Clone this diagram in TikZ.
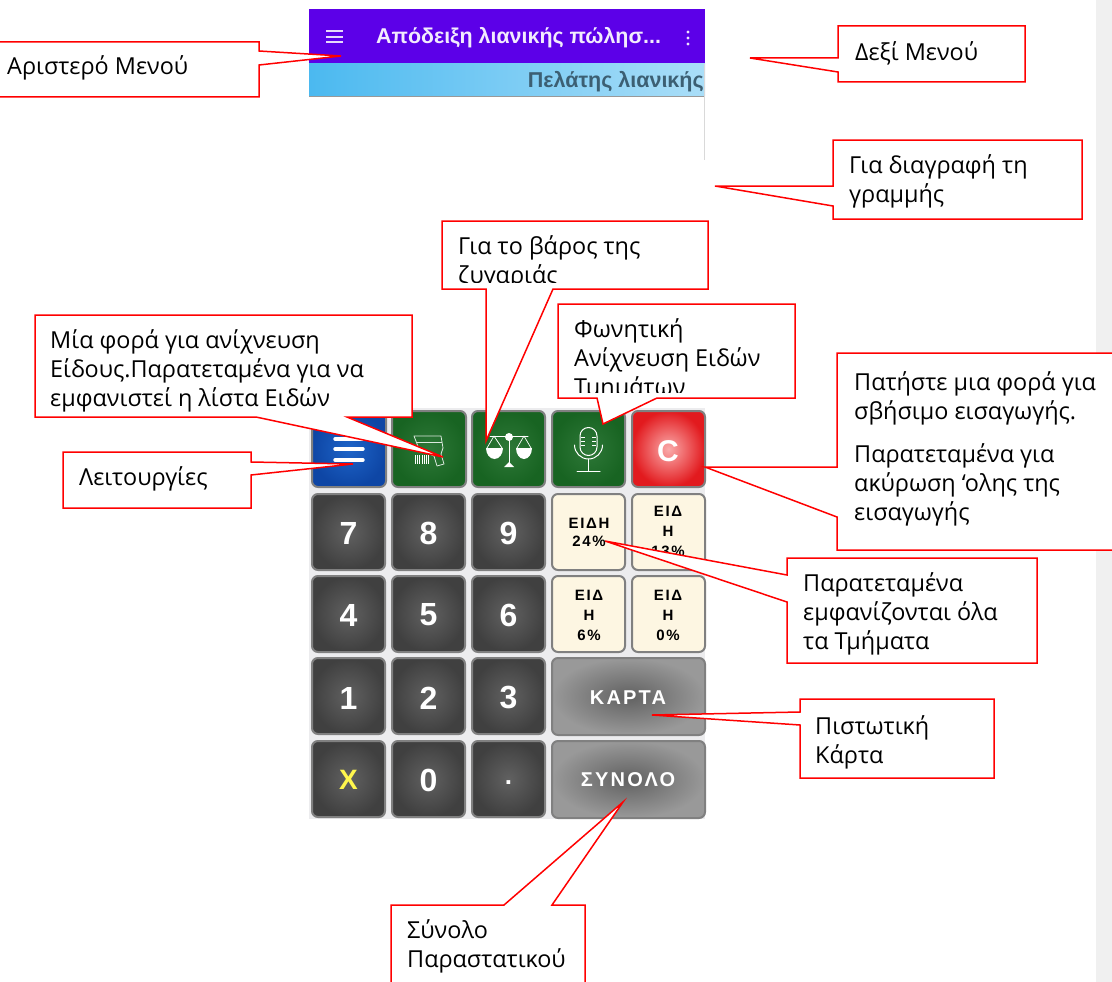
\documentclass[tikz,border=0pt]{standalone}
\usepackage{fontspec}
\setmainfont{Open Sans}
\newfontfamily\appfont{Liberation Sans}
\newfontfamily\spacedfont[LetterSpace=11]{Liberation Sans}
\definecolor{callred}{RGB}{255,0,0}
\definecolor{barpurple}{RGB}{92,0,232}
\definecolor{sidegrey}{RGB}{240,240,240}
\definecolor{padbg}{RGB}{236,236,238}
\definecolor{keyedge}{RGB}{128,128,128}
\definecolor{keygreen}{RGB}{24,100,34}
\definecolor{keygreenin}{RGB}{46,120,56}
\definecolor{keyblue}{RGB}{14,70,165}
\definecolor{keybluein}{RGB}{30,100,200}
\definecolor{keyred}{RGB}{226,26,30}
\definecolor{keyredin}{RGB}{250,170,170}
\definecolor{keycream}{RGB}{253,246,226}
\definecolor{custtext}{RGB}{60,95,115}
\definecolor{bandleft}{RGB}{75,185,240}
\definecolor{bandright}{RGB}{170,222,248}
\tikzset{
  px/.style={x=1pt,y=-1pt},
  callout/.style={draw=callred,line width=1.5pt,fill=white,line join=miter},
  calltext/.style={anchor=north west,inner sep=0pt,align=left,font=\fontsize{23.4}{29}\selectfont,text=black,execute at begin node=\rule{0pt}{18pt}},
  keybase/.style={draw=keyedge,line width=2pt,rounded corners=6pt},
  numkey/.style={keybase,inner color=black!62!white,outer color=black!75!white},
  greenkey/.style={keybase,inner color=keygreenin,outer color=keygreen},
  bluekey/.style={keybase,inner color=keybluein,outer color=keyblue},
  redkey/.style={keybase,inner color=keyredin,outer color=keyred},
  creamkey/.style={keybase,fill=keycream},
  greykey/.style={keybase,inner color=black!62!white,outer color=black!40!white},
  keytext/.style={text=white,font=\appfont\bfseries\fontsize{32}{32}\selectfont},
  smalltext/.style={text=black,align=center,inner sep=0pt,anchor=north,font=\spacedfont\bfseries\fontsize{15}{20}\selectfont,execute at begin node=\rule{0pt}{12pt}},
  widetext/.style={text=white,font=\spacedfont\bfseries\fontsize{20}{20}\selectfont},
  glyph/.style={draw=white,line width=1pt,line cap=round,line join=round},
}
\begin{document}
\begin{tikzpicture}[px]
\useasboundingbox (0,0) rectangle (1112,982);
\fill[white] (0,0) rectangle (1112,982);
\fill[sidegrey] (1096,0) rectangle (1112,982);
% top bar
\fill[barpurple] (309,9) rectangle (705,64);
\shade[left color=bandleft,right color=bandright] (309,64) rectangle (705,96);
\draw[black!40,line width=.6pt] (309,96) -- (705,96);
\draw[black!15,line width=.8pt] (704,64) -- (704,160);
\foreach \yy in {31,37,42} \draw[white!85!barpurple,line width=1.4pt] (326,\yy) -- (343,\yy);
\foreach \yy in {32,38,44} \fill[white!90!barpurple] (688,\yy) circle (1.7);
\node[anchor=west,inner sep=0pt,text=white!92!barpurple,font=\appfont\bfseries\fontsize{21.4}{21}\selectfont] (title) at (376,38) {Απόδειξη λιανικής πώλησ...};
\node[anchor=east,inner sep=0pt,text=custtext,font=\appfont\bfseries\fontsize{21.5}{21}\selectfont] (cust) at (704,82) {Πελάτης λιανικής};
% keypad
\fill[padbg] (309,408) rectangle (705,819);
\shade[bluekey] (312,411) rectangle (386,487);
\shade[greenkey] (392,411) rectangle (466,487);
\shade[greenkey] (472,411) rectangle (545,487);
\shade[greenkey] (552,411) rectangle (625,487);
\shade[redkey] (632,411) rectangle (705,487);
\foreach \kx/\kt [count=\ki] in {312/7,392/8,472/9}{
  \shade[numkey] (\kx,494) rectangle +(73,76);
  \node[keytext] (ka\ki) at (\kx+36.5,533) {\kt};}
\foreach \kx/\kt [count=\ki] in {312/4,392/5,472/6}{
  \shade[numkey] (\kx,576) rectangle +(73,76);
  \node[keytext] (kb\ki) at (\kx+36.5,615) {\kt};}
\foreach \kx/\kt [count=\ki] in {312/1,392/2,472/3}{
  \shade[numkey] (\kx,658) rectangle +(73,76);
  \node[keytext] (kc\ki) at (\kx+36.5,698) {\kt};}
\foreach \kx in {312,392,472}{
  \shade[numkey] (\kx,741) rectangle +(73,76);}
\node[keytext,text=yellow!70!white,font=\appfont\bfseries\fontsize{28}{28}\selectfont] (kd1) at (348.5,780) {X};
\node[keytext] (kd2) at (428.5,780) {0};
\node[keytext,font=\appfont\bfseries\fontsize{26}{26}\selectfont] (kd3) at (508.5,783) {.};
\path[creamkey] (552,494) rectangle (625,570);
\path[creamkey] (632,494) rectangle (705,570);
\path[creamkey] (552,576) rectangle (625,652);
\path[creamkey] (632,576) rectangle (705,652);
\node[smalltext,font=\spacedfont\bfseries\fontsize{15}{18}\selectfont] (vat24) at (589,518) {ΕΙΔΗ\\24\%};
\begin{scope}
\clip (632,494) rectangle (705,556);
\node[smalltext] (vat13) at (668,506) {ΕΙΔ\\Η\\13\%};
\end{scope}
\node[smalltext] (vat6) at (589,590) {ΕΙΔ\\Η\\6\%};
\node[smalltext] (vat0) at (668,590) {ΕΙΔ\\Η\\0\%};
\shade[greykey] (552,658) rectangle (705,735);
\shade[greykey] (552,741) rectangle (705,818);
\node[widetext] (card) at (628,698) {ΚΑΡΤΑ};
\node[widetext] (total) at (628,780) {ΣΥΝΟΛΟ};
\node[keytext,font=\appfont\bfseries\fontsize{30}{30}\selectfont] (clr) at (668,451) {C};
% menu glyph
\foreach \yy in {439,449,460} \draw[white,line width=3.4pt,line cap=round] (335,\yy) -- (363,\yy);
% scanner glyph
\draw[white!85!keygreen,line width=.8pt,line join=round] (414,436) -- (441,436) -- (443,448) -- (441,454) -- (444,464) -- (437,466) -- (434,456) -- (419,449) -- cycle;
\draw[white!85!keygreen,line width=.8pt] (416,442) -- (442,442);
\foreach \xx in {415,417,419.5,422,424,426,428.5} \draw[white,line width=1pt] (\xx,455) -- (\xx,464);
% scales glyph
\draw[glyph] (509,437) -- (509,464) (490,436) -- (528,436);
\fill[white] (509,437) circle (4);
\fill[white] (504,467) -- (514,467) -- (509,462) -- cycle;
\draw[glyph,line width=.7pt] (494,436) -- (487,448) (494,436) -- (502,448) (524,436) -- (517,448) (524,436) -- (531,448);
\fill[white] (486,448) arc (180:0:8.5 and 11) -- cycle;
\fill[white] (516,448) arc (180:0:8 and 11) -- cycle;
% mic glyph
\draw[glyph] (580,436) arc (180:360:8.5) -- (597,447) arc (0:180:8.5) -- cycle;
\draw[glyph] (574.5,445) arc (180:0:14);
\draw[glyph] (588.5,459) -- (588.5,471) (577,471) -- (600,471);
\foreach \yy in {437,441,445} {\draw[white,line width=.8pt] (581,\yy) -- (585,\yy);\draw[white,line width=.8pt] (592,\yy) -- (596,\yy);}
% callouts
\path[callout] (0,42) -- (259,42) -- (259,51) -- (341,56) -- (259,65) -- (259,97) -- (0,97);
\node[calltext] (tleft) at (7,55) {Αριστερό Μενού};
\path[callout] (838,26) -- (1025,26) -- (1025,82) -- (838,82) -- (838,72) -- (750,58) -- (838,58) -- cycle;
\node[calltext] (tright) at (855,41) {Δεξί Μενού};
\path[callout] (833,140) -- (1082,140) -- (1082,219) -- (833,219) -- (833,206) -- (715,186) -- (833,186) -- cycle;
\node[calltext] (tdel) at (849,154) {Για διαγραφή τη\\γραμμής};
\path[callout] (442,221) -- (708,221) -- (708,289) -- (553,289) -- (486,441) -- (486,289) -- (442,289) -- cycle;
\begin{scope}
\clip (443,222) rectangle (707,282);
\node[calltext] (tscale) at (458,235) {Για το βάρος της\\ζυγαριάς};
\end{scope}
\path[callout] (35,315) -- (412,315) -- (412,417) -- (347,417) -- (443,457) -- (256,417) -- (35,417) -- cycle;
\node[calltext] (tscan) at (50,329) {Μία φορά για ανίχνευση\\Είδους.Παρατεταμένα για να\\εμφανιστεί η λίστα Ειδών};
\path[callout] (558,304) -- (795,304) -- (795,398) -- (657,398) -- (603,424) -- (597,398) -- (558,398) -- cycle;
\begin{scope}
\clip (559,305) rectangle (794,392);
\node[calltext] (tvoice) at (574,318) {Φωνητική\\Ανίχνευση Ειδών\\Τμημάτων};
\end{scope}
\path[callout] (63,452) -- (251,452) -- (251,462) -- (353,464) -- (251,475) -- (251,508) -- (63,508) -- cycle;
\node[calltext] (tfunc) at (79,466) {Λειτουργίες};
\path[callout] (1112,353) -- (837,353) -- (837,467) -- (705,467) -- (837,517) -- (837,550) -- (1112,550);
\node[calltext] (tc) at (854,371) {Πατήστε μια φορά για\\σβήσιμο εισαγωγής.};
\node[calltext] (tc2) at (854,443) {Παρατεταμένα για\\ακύρωση ‘ολης της\\εισαγωγής};
\path[callout] (787,558) -- (1037,558) -- (1037,663) -- (787,663) -- (787,602) -- (605,541) -- (787,575) -- cycle;
\node[calltext] (tlong) at (803,572) {Παρατεταμένα\\εμφανίζονται όλα\\τα Τμήματα};
\path[callout] (800,699) -- (994,699) -- (994,778) -- (800,778) -- (800,725) -- (652,715) -- (800,712) -- cycle;
\node[calltext] (tcard) at (815,715) {Πιστωτική\\Κάρτα};
\path[callout] (391,982) -- (391,905) -- (504,905) -- (623,802) -- (552,905) -- (585,905) -- (585,982);
\node[calltext] (ttotal) at (407,919) {Σύνολο\\Παραστατικού};
\end{tikzpicture}
\end{document}
